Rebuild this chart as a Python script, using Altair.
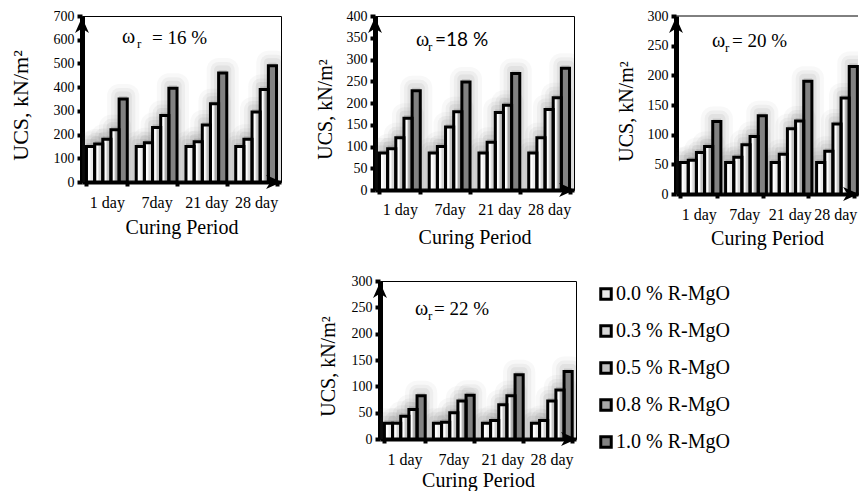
import altair as alt
import pandas as pd

periods = ["1 day", "7day", "21 day", "28 day"]
dosages = ["0.0 % R-MgO", "0.3 % R-MgO", "0.5 % R-MgO", "0.8 % R-MgO", "1.0 % R-MgO"]
fills = ["#ececec", "#d6d6d6", "#c2c2c2", "#a8a8a8", "#828282"]

# UCS values (kN/m2): one list per curing period, one value per R-MgO dosage
ucs_16 = [[150, 160, 180, 220, 350], [150, 165, 230, 280, 395],
          [150, 170, 240, 330, 460], [150, 180, 295, 390, 490]]
ucs_18 = [[85, 95, 120, 165, 228], [85, 100, 145, 180, 248],
          [85, 110, 178, 195, 268], [85, 120, 185, 212, 280]]
ucs_20 = [[53, 57, 70, 80, 122], [53, 62, 83, 97, 132],
          [53, 67, 110, 123, 190], [53, 72, 118, 162, 215]]
ucs_22 = [[30, 30, 43, 56, 82], [30, 32, 50, 72, 83],
          [30, 35, 65, 82, 122], [30, 35, 72, 93, 128]]

SERIF = "Liberation Serif, Times New Roman, serif"
SANS = "Lato, Open Sans, sans-serif"
ARROW = "M0,-1L0.8,0.8L0,0.3L-0.8,0.8Z"
GRAD = {
    "gradient": "linear", "x1": 0, "y1": 0, "x2": 1, "y2": 0,
    "stops": [
        {"offset": 0.0, "color": "rgba(255,255,255,1)"},
        {"offset": 0.35, "color": "rgba(255,255,255,1)"},
        {"offset": 0.6, "color": "rgba(255,255,255,0)"},
        {"offset": 1.0, "color": "rgba(255,255,255,0)"},
    ],
}


def make_df(vals):
    rows = []
    for p, vs in zip(periods, vals):
        for d, v in zip(dosages, vs):
            rows.append({"period": p, "dosage": d, "ucs": v})
    return pd.DataFrame(rows)


def blank(w, h):
    return alt.Chart(pd.DataFrame({"a": [0]})).mark_rule(strokeOpacity=0).encode(
        x=alt.value(0), x2=alt.value(1), y=alt.value(0)).properties(
        width=w, height=h, view=alt.ViewBackground(stroke=None))


def panel(vals, ymax, ystep, w, h, eq_text, eq_font, ann, ytitle_x, ytitle_size,
          xtitle_y, xlabel_pad, legend=None, top_only=False):
    df = make_df(vals)
    x = alt.X("period:N", sort=periods,
              scale=alt.Scale(domain=periods, paddingInner=0.18, paddingOuter=0.09),
              axis=alt.Axis(title="Curing Period", labelAngle=0, labelFont=SERIF,
                            labelFontSize=16, labelColor="black", labelPadding=xlabel_pad,
                            titleFont=SERIF, titleFontSize=20, titleFontWeight="normal",
                            titleColor="black", titleY=xtitle_y, titleBaseline="middle",
                            domainColor="black", domainWidth=4, tickColor="black",
                            tickWidth=4, tickSize=4, tickBand="extent"))
    xo = alt.XOffset("dosage:N", sort=dosages,
                     scale=alt.Scale(domain=dosages, paddingInner=0, paddingOuter=0))
    y = alt.Y("ucs:Q", scale=alt.Scale(domain=[0, ymax], nice=False),
              axis=alt.Axis(values=list(range(0, ymax + 1, ystep)), title="UCS, kN/m²",
                            grid=False, labelFont=SERIF, labelFontSize=14,
                            labelColor="black", labelPadding=3,
                            titleFont=SERIF, titleFontSize=ytitle_size,
                            titleFontWeight="normal", titleColor="black",
                            titleX=ytitle_x, titleY=h / 2 + 6, titleBaseline="middle",
                            domainColor="black", domainWidth=5, tickColor="black",
                            tickWidth=4, tickSize=5))
    base = alt.Chart(df)
    layers = []
    for sw, op in [(24, 0.04), (16, 0.05), (9, 0.07)]:
        layers.append(base.mark_bar(fill="#444444", fillOpacity=op, stroke="#444444",
                                    strokeOpacity=op, strokeWidth=sw, strokeJoin="round",
                                    yOffset=-3, clip=True)
                      .encode(x=x, xOffset=xo, y=y))
    layers.append(base.mark_bar().encode(
        x=x, xOffset=xo, y=y,
        fill=alt.Fill("dosage:N", sort=dosages,
                      scale=alt.Scale(domain=dosages, range=fills),
                      legend=legend if legend is not None else None)))
    layers.append(base.transform_filter(alt.datum.dosage != dosages[-1])
                  .mark_bar(fill=GRAD).encode(x=x, xOffset=xo, y=y))
    layers.append(base.mark_bar(fill="white", fillOpacity=0, stroke="black",
                                strokeWidth=3).encode(x=x, xOffset=xo, y=y))
    one = alt.Chart(pd.DataFrame({"a": [0]}))
    layers.append(one.mark_point(shape=ARROW, size=300, filled=True, color="black",
                                 opacity=1).encode(x=alt.value(0), y=alt.value(10)))
    layers.append(one.mark_point(shape=ARROW, size=300, filled=True, color="black",
                                 opacity=1, angle=90).encode(x=alt.value(w - 8),
                                                             y=alt.value(h)))
    (wx, wy), (rx, ry), (ex, ey) = ann
    layers.append(one.mark_text(text="ω", font=SERIF, fontSize=20, align="left",
                                baseline="alphabetic", color="black")
                  .encode(x=alt.value(wx), y=alt.value(wy)))
    layers.append(one.mark_text(text="r", font=SERIF, fontSize=13, align="left",
                                baseline="alphabetic", color="black")
                  .encode(x=alt.value(rx), y=alt.value(ry)))
    layers.append(one.mark_text(text=eq_text, font=eq_font, fontSize=19, align="left",
                                baseline="alphabetic", color="black")
                  .encode(x=alt.value(ex), y=alt.value(ey)))
    props = dict(width=w, height=h)
    if top_only:
        props["view"] = alt.ViewBackground(stroke=None)
        layers.append(one.mark_rule(color="black", strokeWidth=1).encode(
            x=alt.value(0), x2=alt.value(w), y=alt.value(0)))
    return alt.layer(*layers).properties(**props)


p1 = panel(ucs_16, 700, 100, 199, 166, "= 16 %", SERIF,
           ((40, 27), (55, 32), (70, 28)), -62, 22, 45, 8)
p2 = panel(ucs_18, 400, 50, 199, 174, "=18 %", SANS,
           ((41, 30), (53, 35), (60, 30)), -50, 20, 47, 7)
p3 = panel(ucs_20, 300, 50, 182, 178, "= 20 %", SERIF,
           ((36, 31), (49, 36), (56, 31)), -50, 20, 44, 8, top_only=True)
leg = alt.Legend(orient="none", legendX=216, legendY=3, title=None, symbolType="square",
                 symbolSize=110, symbolStrokeColor="black", symbolStrokeWidth=3,
                 symbolOpacity=1, labelFont=SERIF, labelFontSize=20, labelColor="black",
                 labelOffset=0, rowPadding=13)
p4 = panel(ucs_22, 300, 50, 196, 158, "= 22 %", SERIF,
           ((35, 34), (48, 39), (54, 34)), -52, 20, 41, 8, legend=leg)

row1 = (alt.hconcat(alt.hconcat(p1, p2, spacing=31), p3, spacing=40)
        .resolve_legend(fill="independent").resolve_scale(fill="independent"))
row2 = (alt.hconcat(blank(235, 10), p4, spacing=0)
        .resolve_legend(fill="independent").resolve_scale(fill="independent"))
chart = (alt.vconcat(row1, row2, spacing=25)
         .resolve_legend(fill="independent").resolve_scale(fill="independent")
         .properties(padding=0, background="white")
         .configure_view(stroke="black", strokeWidth=1)
         .configure_axis(labelFont=SERIF, titleFont=SERIF)
         .configure_legend(labelFont=SERIF))

chart.save("out.html", embed_options={"renderer": "svg", "actions": False})
